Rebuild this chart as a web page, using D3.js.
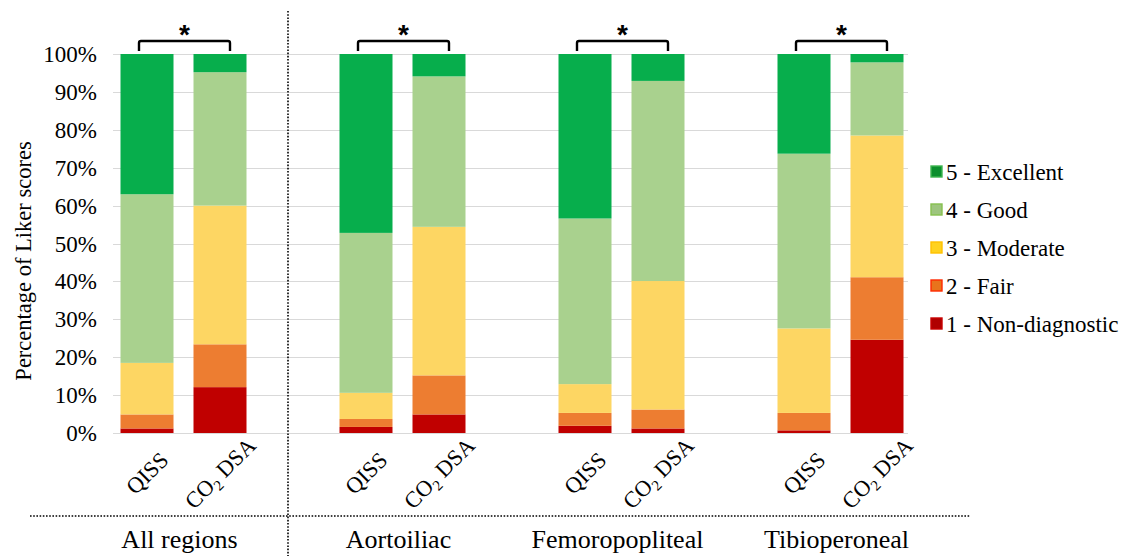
<!DOCTYPE html>
<meta charset="utf-8">
<style>
    body { margin: 0; background: #fff; }
    svg { display: block; }
    svg text { font-family: "Liberation Serif", "Times New Roman", serif; fill: #000; }
    svg text.star { font-family: "Liberation Sans", Arial, sans-serif; font-weight: bold; }
    .grid line { stroke: #d9d9d9; stroke-width: 1.3; shape-rendering: crispEdges; }
    .dots { stroke: #000; stroke-width: 1.6; stroke-dasharray: 1.6 1.6; fill: none; }
</style>
<body>
<div id="chart"></div>
<script src="https://cdnjs.cloudflare.com/ajax/libs/d3/7.8.5/d3.min.js"></script>
<script>
    // regions along the x axis, two modalities per region
    var regions = ["All regions", "Aortoiliac", "Femoropopliteal", "Tibioperoneal"];
    var modalities = ["QISS", "CO2 DSA"];
    var scoreLabels = ["1 - Non-diagnostic", "2 - Fair", "3 - Moderate", "4 - Good", "5 - Excellent"];
    var yTicks = [0, 10, 20, 30, 40, 50, 60, 70, 80, 90, 100];

    // percentage per score, bars ordered: region by region, QISS then CO2 DSA
    var score1 = [1.2, 12.1, 1.6, 4.9, 1.9, 1.2, 0.7, 24.6];
    var score2 = [3.7, 11.3, 2.1, 10.3, 3.4, 5.0, 4.6, 16.5];
    var score3 = [13.6, 36.6, 6.9, 39.2, 7.6, 33.9, 22.3, 37.4];
    var score4 = [44.5, 35.2, 42.2, 39.7, 43.7, 52.8, 46.1, 19.3];
    var score5 = [37.0, 4.8, 47.2, 5.9, 43.4, 7.1, 26.3, 2.2];
    var significant = ["*", "*", "*", "*"];

    var barColors = ["#c00000", "#ed7d31", "#fdd663", "#a9d18e", "#07ae4c"];
    var legendFill = ["#b00000", "#e8741c", "#ffd21f", "#9dc57e", "#0b8f2d"];
    var legendStroke = ["#c80000", "#ff2a00", "#ffc000", "#86c04f", "#3db54f"];

    var width = 1131, height = 556;
    var svg = d3.select("#chart").append("svg").attr("width", width).attr("height", height);

    // one slot per bar plus an empty slot between regions (same as excel blank categories)
    var slots = [];
    regions.forEach(function(r, i) {
        modalities.forEach(function(m) { slots.push(r + "|" + m); });
        if (i < regions.length - 1) slots.push("gap" + i);
    });

    var x = d3.scaleBand().domain(slots).range([110.5, 913.5])
        .paddingInner(0.274).paddingOuter(0.137);
    var y = d3.scaleLinear().domain([0, 100]).range([433, 54]);

    // build rows for the stack
    var rows = [];
    regions.forEach(function(r, ri) {
        modalities.forEach(function(m, mi) {
            var k = ri * 2 + mi;
            rows.push({ key: r + "|" + m, s1: score1[k], s2: score2[k], s3: score3[k], s4: score4[k], s5: score5[k] });
        });
    });
    var stack = d3.stack().keys(["s1", "s2", "s3", "s4", "s5"])(rows);

    // gridlines
    svg.append("g").attr("class", "grid")
        .selectAll("line").data(yTicks).enter().append("line")
        .attr("x1", 113).attr("x2", 908)
        .attr("y1", function(d) { return Math.round(y(d)) + 0.5; })
        .attr("y2", function(d) { return Math.round(y(d)) + 0.5; });

    // y axis labels
    var yAxis = d3.axisLeft(y).tickValues(yTicks).tickSize(0).tickPadding(0)
        .tickFormat(function(d) { return d + "%"; });
    var gy = svg.append("g").attr("transform", "translate(97,0)").call(yAxis);
    gy.select(".domain").remove();
    gy.attr("font-family", null);
    gy.selectAll("text").attr("font-size", 23).attr("dy", "0.33em");

    svg.append("text")
        .attr("transform", "translate(31,261) rotate(-90)")
        .attr("text-anchor", "middle").attr("font-size", 22.5)
        .text("Percentage of Liker scores");

    // stacked bars
    svg.append("g").selectAll("g").data(stack).enter().append("g")
        .attr("fill", function(d, i) { return barColors[i]; })
        .selectAll("rect").data(function(d) { return d; }).enter().append("rect")
        .attr("x", function(d) { return x(d.data.key); })
        .attr("width", x.bandwidth())
        .attr("y", function(d) { return y(d[1]); })
        .attr("height", function(d) { return y(d[0]) - y(d[1]); });

    // rotated bar labels with subscript 2
    rows.forEach(function(r) {
        var cx = x(r.key) + x.bandwidth() / 2;
        var t = svg.append("text")
            .attr("transform", "translate(" + cx + ",473) rotate(-45)")
            .attr("text-anchor", "middle").attr("dy", "0.35em")
            .attr("font-size", 22.5);
        var m = r.key.split("|")[1];
        if (m === "QISS") {
            t.text("QISS");
        } else {
            t.append("tspan").text("CO");
            t.append("tspan").attr("font-size", 15).attr("dy", 5).text("2");
            t.append("tspan").attr("dy", -5).text(" DSA");
        }
    });

    // significance brackets
    regions.forEach(function(r, i) {
        var a = x(r + "|" + modalities[0]) + x.bandwidth() / 2 - 8;
        var b = x(r + "|" + modalities[1]) + x.bandwidth() / 2 + 10;
        svg.append("path")
            .attr("d", "M" + a + ",51 L" + a + ",43 Q" + a + ",41 " + (a + 2) + ",41 L" + (b - 2) + ",41 Q" + b + ",41 " + b + ",43 L" + b + ",51")
            .attr("fill", "none").attr("stroke", "#000").attr("stroke-width", 2.4);
        svg.append("text").attr("class", "star")
            .attr("x", (a + b) / 2).attr("y", 44)
            .attr("text-anchor", "middle").attr("font-size", 28)
            .text(significant[i]);
    });

    // region labels
    regions.forEach(function(r) {
        var cx = (x(r + "|" + modalities[0]) + x(r + "|" + modalities[1]) + x.bandwidth()) / 2;
        svg.append("text").attr("x", cx - 4).attr("y", 548)
            .attr("text-anchor", "middle").attr("font-size", 26).text(r);
    });

    // dotted separators
    svg.append("line").attr("class", "dots").attr("x1", 288).attr("x2", 288).attr("y1", 11).attr("y2", 556);
    svg.append("line").attr("class", "dots").attr("x1", 30).attr("x2", 970).attr("y1", 516).attr("y2", 516);

    // legend, top entry is score 5
    var legend = svg.append("g").selectAll("g").data(d3.range(5).reverse()).enter().append("g")
        .attr("transform", function(d, i) { return "translate(931," + (172 + i * 38) + ")"; });
    legend.append("rect").attr("x", 0).attr("y", -6).attr("width", 11).attr("height", 11)
        .attr("fill", function(d) { return legendFill[d]; })
        .attr("stroke", function(d) { return legendStroke[d]; }).attr("stroke-width", 1.4);
    legend.append("text").attr("x", 15).attr("dy", "0.35em").attr("font-size", 23)
        .text(function(d) { return scoreLabels[d]; });
</script>
</body>
